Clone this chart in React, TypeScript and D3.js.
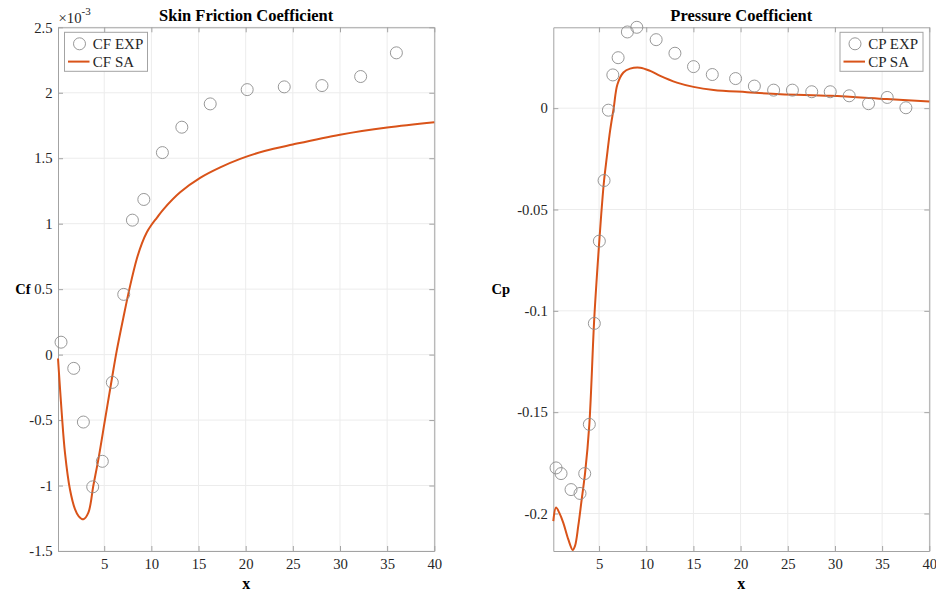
import React, { useEffect, useRef } from 'react';
import * as d3 from 'd3';

// tick values
const xTicks = [5, 10, 15, 20, 25, 30, 35, 40];
const cfTicks = [-1.5, -1, -0.5, 0, 0.5, 1, 1.5, 2, 2.5];
const cpTicks = [-0.2, -0.15, -0.1, -0.05, 0];

// skin friction, values in units of 1e-3
const cfExpX = [0.42, 1.77, 2.79, 3.78, 4.8, 5.86, 7.07, 7.99, 9.2, 11.17, 13.23, 16.24, 20.16, 24.09, 28.09, 32.19, 35.98];
const cfExpY = [0.095, -0.105, -0.515, -1.01, -0.815, -0.212, 0.46, 1.027, 1.185, 1.543, 1.737, 1.915, 2.024, 2.045, 2.055, 2.124, 2.305];
const cfSaX = [0.1, 0.49, 0.84, 1.37, 1.9, 2.3, 2.79, 3.32, 3.85, 4.38, 5.09, 5.8, 6.33, 7.03, 7.74, 8.45, 9.0, 9.52, 10.0, 10.58, 11.28, 13.05, 15.17, 17.3, 19.42, 22, 25, 30, 35, 40];
const cfSaY = [-0.03, -0.44, -0.75, -1.03, -1.18, -1.235, -1.258, -1.207, -1.0, -0.8, -0.495, -0.19, 0.03, 0.282, 0.523, 0.73, 0.85, 0.935, 0.99, 1.045, 1.11, 1.24, 1.35, 1.43, 1.495, 1.555, 1.605, 1.68, 1.735, 1.775];

// pressure coefficient
const cpExpX = [0.44, 0.97, 2.03, 2.98, 3.48, 3.97, 4.5, 5.03, 5.53, 5.99, 6.46, 7.02, 8.0, 9.0, 11.05, 13.04, 15.01, 17.0, 19.47, 21.46, 23.5, 25.49, 27.54, 29.5, 31.51, 33.56, 35.54, 37.52];
const cpExpY = [-0.1775, -0.1803, -0.1882, -0.1901, -0.1803, -0.156, -0.1062, -0.0656, -0.0357, -0.001, 0.0164, 0.0249, 0.0376, 0.0399, 0.0338, 0.0271, 0.0205, 0.0166, 0.0146, 0.0109, 0.0089, 0.0089, 0.0081, 0.0081, 0.0061, 0.0022, 0.0053, 0.0002];
const cpSaX = [0.15, 0.44, 0.79, 1.21, 1.74, 2.21, 2.45, 2.8, 3.16, 3.52, 3.97, 4.5, 5.03, 5.29, 5.53, 5.82, 6.17, 6.55, 6.95, 7.58, 8.29, 9.35, 10.42, 11.48, 13.25, 15.01, 17.14, 20.68, 24.22, 29.5, 35.5, 40];
const cpSaY = [-0.2038, -0.197, -0.1997, -0.2046, -0.2128, -0.218, -0.216, -0.206, -0.193, -0.18, -0.156, -0.103, -0.0652, -0.0488, -0.0357, -0.0242, -0.0111, 0.0, 0.0118, 0.0176, 0.0195, 0.02, 0.0184, 0.0159, 0.0126, 0.0105, 0.009, 0.0079, 0.0069, 0.0061, 0.0045, 0.0033];

const FONT = "'Liberation Serif', 'Times New Roman', Times, serif";
const SA_COLOR = '#D95319';
const EXP_COLOR = '#8c8c8c';
const AXIS_COLOR = '#a3a3a3';
const GRID_COLOR = '#ececec';
const TEXT_COLOR = '#262626';

const App = () => {
  const svgRef = useRef(null);

  useEffect(() => {
    const svg = d3.select(svgRef.current);
    svg.selectAll('*').remove();

    const drawPanel = (p) => {
      const x = d3.scaleLinear().domain(p.xDomain).range([p.left, p.right]);
      const y = d3.scaleLinear().domain(p.yDomain).range([p.bottom, p.top]);
      const g = svg.append('g');
      const fmt = (d) => String(d);

      // grid lines
      g.append('g')
        .selectAll('line')
        .data(xTicks)
        .enter()
        .append('line')
        .attr('x1', (d) => x(d))
        .attr('x2', (d) => x(d))
        .attr('y1', p.top)
        .attr('y2', p.bottom)
        .attr('stroke', GRID_COLOR);
      g.append('g')
        .selectAll('line')
        .data(p.yTicks)
        .enter()
        .append('line')
        .attr('x1', p.left)
        .attr('x2', p.right)
        .attr('y1', (d) => y(d))
        .attr('y2', (d) => y(d))
        .attr('stroke', GRID_COLOR);

      // axes, ticks pointing inside
      const styleAxis = (a) => {
        a.selectAll('path').attr('stroke', AXIS_COLOR);
        a.selectAll('line').attr('stroke', AXIS_COLOR);
        a.selectAll('text').attr('fill', TEXT_COLOR).style('font-family', FONT).style('font-size', '14.7px');
      };
      g.append('g')
        .attr('transform', `translate(0,${p.bottom})`)
        .call(d3.axisBottom(x).tickValues(xTicks).tickFormat(fmt).tickSize(-5).tickSizeOuter(0).tickPadding(8))
        .call(styleAxis);
      g.append('g')
        .attr('transform', `translate(0,${p.top})`)
        .call(d3.axisTop(x).tickValues(xTicks).tickFormat(() => '').tickSize(-5).tickSizeOuter(0))
        .call(styleAxis);
      g.append('g')
        .attr('transform', `translate(${p.left},0)`)
        .call(d3.axisLeft(y).tickValues(p.yTicks).tickFormat(fmt).tickSize(-5).tickSizeOuter(0).tickPadding(5.5))
        .call(styleAxis);
      g.append('g')
        .attr('transform', `translate(${p.right},0)`)
        .call(d3.axisRight(y).tickValues(p.yTicks).tickFormat(() => '').tickSize(-5).tickSizeOuter(0))
        .call(styleAxis);

      // simulation line
      const line = d3
        .line()
        .x((d) => x(d[0]))
        .y((d) => y(d[1]))
        .curve(d3.curveCatmullRom.alpha(0.5));
      g.append('path')
        .datum(d3.zip(p.saX, p.saY))
        .attr('d', line)
        .attr('fill', 'none')
        .attr('stroke', SA_COLOR)
        .attr('stroke-width', 2);

      // experiment markers
      g.append('g')
        .selectAll('circle')
        .data(d3.zip(p.expX, p.expY))
        .enter()
        .append('circle')
        .attr('cx', (d) => x(d[0]))
        .attr('cy', (d) => y(d[1]))
        .attr('r', 6)
        .attr('fill', 'none')
        .attr('stroke', EXP_COLOR)
        .attr('stroke-width', 0.9);

      // title
      g.append('text')
        .attr('x', (p.left + p.right) / 2)
        .attr('y', 21)
        .attr('text-anchor', 'middle')
        .style('font-family', FONT)
        .style('font-weight', 'bold')
        .style('font-size', '16.5px')
        .attr('fill', '#000')
        .text(p.title);

      // axis labels
      g.append('text')
        .attr('x', (p.left + p.right) / 2)
        .attr('y', 589)
        .attr('text-anchor', 'middle')
        .style('font-family', FONT)
        .style('font-weight', 'bold')
        .style('font-size', '16px')
        .attr('fill', '#000')
        .text('x');
      g.append('text')
        .attr('x', p.ylabelX)
        .attr('y', (p.top + p.bottom) / 2 + 5)
        .attr('text-anchor', 'end')
        .style('font-family', FONT)
        .style('font-weight', 'bold')
        .style('font-size', '14.5px')
        .attr('fill', '#000')
        .text(p.ylabel);

      // legend
      const lg = g.append('g').attr('transform', `translate(${p.legendX},${p.top + 5})`);
      lg.append('rect')
        .attr('x', 0)
        .attr('y', 0)
        .attr('width', 83)
        .attr('height', 39)
        .attr('fill', '#fff')
        .attr('stroke', AXIS_COLOR);
      lg.append('circle')
        .attr('cx', 15)
        .attr('cy', 11.5)
        .attr('r', 6)
        .attr('fill', 'none')
        .attr('stroke', EXP_COLOR)
        .attr('stroke-width', 0.9);
      lg.append('line')
        .attr('x1', 3.5)
        .attr('x2', 25)
        .attr('y1', 29.3)
        .attr('y2', 29.3)
        .attr('stroke', SA_COLOR)
        .attr('stroke-width', 2);
      lg.selectAll('text.leg')
        .data(p.legend)
        .enter()
        .append('text')
        .attr('class', 'leg')
        .attr('x', 28.3)
        .attr('y', (d, i) => 16.5 + i * 18)
        .style('font-family', FONT)
        .style('font-size', '15px')
        .attr('fill', TEXT_COLOR)
        .text((d) => d);

      return g;
    };

    const left = drawPanel({
      left: 58,
      right: 434.3,
      top: 27.3,
      bottom: 551,
      xDomain: [0.1, 40],
      yDomain: [-1.5, 2.5],
      yTicks: cfTicks,
      expX: cfExpX,
      expY: cfExpY,
      saX: cfSaX,
      saY: cfSaY,
      title: 'Skin Friction Coefficient',
      ylabel: 'Cf',
      ylabelX: 30.5,
      legendX: 64.5,
      legend: ['CF EXP', 'CF SA'],
    });

    // exponent label of the Cf axis
    const ex = left
      .append('text')
      .attr('x', 58.5)
      .attr('y', 23)
      .style('font-family', FONT)
      .style('font-size', '14.7px')
      .attr('fill', TEXT_COLOR);
    ex.append('tspan').text('\u00d710');
    ex.append('tspan').attr('dy', -8).style('font-size', '11px').text('-3');

    drawPanel({
      left: 553.3,
      right: 929.3,
      top: 27.3,
      bottom: 551,
      xDomain: [0.15, 40],
      yDomain: [-0.2185, 0.0399],
      yTicks: cpTicks,
      expX: cpExpX,
      expY: cpExpY,
      saX: cpSaX,
      saY: cpSaY,
      title: 'Pressure Coefficient',
      ylabel: 'Cp',
      ylabelX: 510,
      legendX: 840,
      legend: ['CP EXP', 'CP SA'],
    });

    return () => svg.selectAll('*').remove();
  }, []);

  return (
    <svg
      ref={svgRef}
      width={936}
      height={595}
      style={{ position: 'absolute', left: 0, top: 0, background: '#fff' }}
    ></svg>
  );
};

export default App;
